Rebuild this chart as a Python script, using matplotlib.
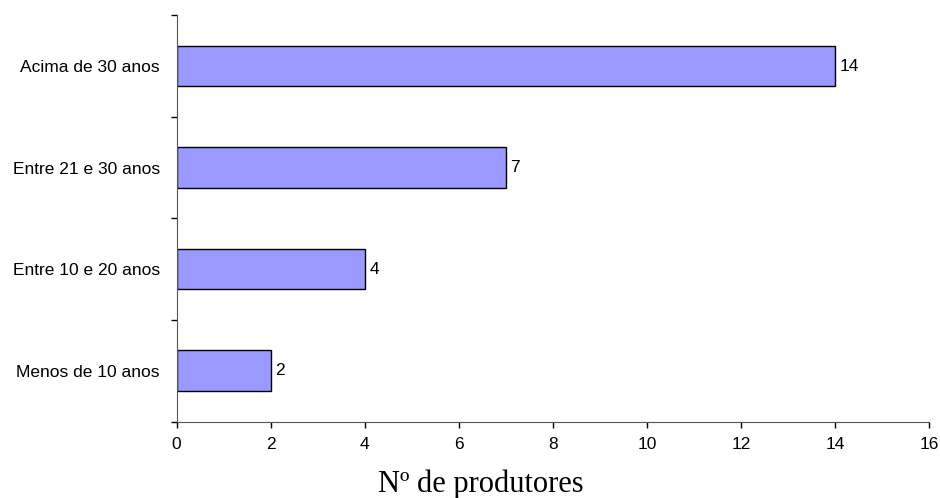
import matplotlib.pyplot as plt
import numpy as np

categorias = ["Menos de 10 anos", "Entre 10 e 20 anos", "Entre 21 e 30 anos", "Acima de 30 anos"]
produtores = [2, 4, 7, 14]

plt.rcParams['font.family'] = ['Liberation Sans', 'DejaVu Sans']

fig = plt.figure(figsize=(9.4, 4.98), dpi=100)
ax = fig.add_axes([0.1878, 0.1536, 0.8005, 0.8157])

y = np.arange(len(categorias))
ax.barh(y, produtores, height=0.4, color='#9999FF', edgecolor='black', linewidth=1.0)

for yi, v in zip(y, produtores):
    ax.text(v + 0.1, yi, str(v), va='center', ha='left', fontsize=12.5)

ax.set_xlim(0, 16)
ax.set_ylim(-0.5, len(categorias) - 0.5)
ax.set_xticks(np.arange(0, 17, 2))
ax.set_yticks(y)
ax.set_yticklabels(categorias)
ax.set_yticks(np.arange(-0.5, len(categorias), 1), minor=True)
ax.tick_params(axis='y', which='major', length=0, pad=12, labelsize=12.5)
ax.tick_params(axis='y', which='minor', length=4.5, direction='out', width=1)
ax.tick_params(axis='x', length=4.5, direction='out', width=1, labelsize=12.5, pad=7)

for s in ['top', 'right']:
    ax.spines[s].set_visible(False)
ax.spines['left'].set_color('#555555')
ax.spines['bottom'].set_color('#555555')

# x axis title sits a bit left of the plot centre
fig.text(0.511, 0.012, "Nº de produtores", family=['Liberation Serif', 'DejaVu Serif'],
         fontsize=22, ha='center', va='baseline')

fig.savefig("out.png", dpi=100)
